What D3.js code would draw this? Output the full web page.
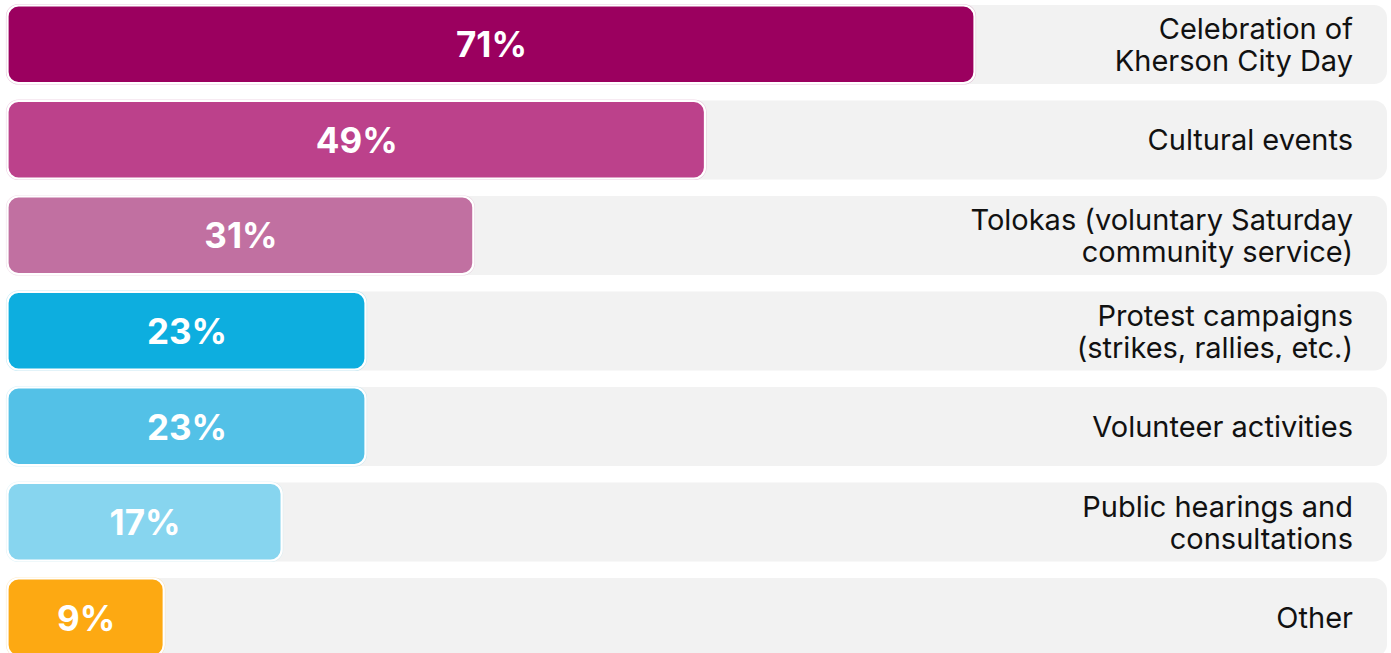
<!DOCTYPE html>
<html>
<head>
<meta charset="utf-8">
<script src="https://cdn.jsdelivr.net/npm/d3@7"></script>
<style>
  html, body { margin: 0; padding: 0; background: #ffffff; }
  svg { display: block; }
</style>
</head>
<body>
<svg id="chart" width="1391" height="653"></svg>
<script>
// ---- data ----
const categories = [
  ["Celebration of", "Kherson City Day"],
  ["Cultural events"],
  ["Tolokas (voluntary Saturday", "community service)"],
  ["Protest campaigns ", "(strikes, rallies, etc.)"],
  ["Volunteer activities"],
  ["Public hearings and", "consultations"],
  ["Other"]
];
const values = [71, 49, 31, 23, 23, 17, 9];
const colors = ["#9b005f", "#bc418b", "#c170a1", "#0daedf", "#53c1e7", "#87d5ef", "#fda912"];

// ---- layout ----
const svg = d3.select("#chart");
const ids = categories.map((c, i) => i);

const y = d3.scaleBand().domain(ids).range([5, 657]).paddingInner(0.173).paddingOuter(0);
const x = d3.scalePow().exponent(0.88).domain([0, 71]).range([0, 968]);

const trackX = 6, trackW = 1381, barX = 7.5;
const font = "Inter, 'Noto Sans', sans-serif";

const rows = svg.selectAll("g.row").data(ids).enter().append("g").attr("class", "row");

rows.append("rect")
  .attr("x", trackX).attr("y", i => y(i))
  .attr("width", trackW).attr("height", y.bandwidth())
  .attr("rx", 13).attr("fill", "#f2f2f2");

// faint tinted halo
rows.append("rect")
  .attr("x", barX - 1).attr("y", i => y(i) - 0.5)
  .attr("width", i => x(values[i]) + 1).attr("height", y.bandwidth() + 0.5)
  .attr("rx", 12)
  .attr("fill", "none")
  .attr("stroke", i => colors[i]).attr("stroke-opacity", 0.22).attr("stroke-width", 1.2);

rows.append("rect")
  .attr("x", barX).attr("y", i => y(i) + 0.5)
  .attr("width", i => x(values[i]) - 1).attr("height", y.bandwidth() - 1.5)
  .attr("rx", 11)
  .attr("fill", i => colors[i])
  .attr("stroke", "#ffffff").attr("stroke-width", 2.2);

rows.append("text")
  .attr("x", i => barX + x(values[i]) / 2)
  .attr("y", i => y(i) + y.bandwidth() / 2 + 13)
  .attr("text-anchor", "middle")
  .attr("font-family", font)
  .attr("font-weight", 700)
  .attr("font-size", 35)
  .attr("fill", "#ffffff")
  .text(i => values[i] + "%");

const lineH = 32;
rows.each(function(i) {
  const lines = categories[i];
  const cy = y(i) + y.bandwidth() / 2;
  const first = cy + 10.5 - (lines.length - 1) * lineH / 2;
  const t = d3.select(this).append("text")
    .attr("text-anchor", "end")
    .attr("font-family", font)
    .attr("font-size", 29)
    .attr("fill", "#111111");
  lines.forEach((l, k) => {
    t.append("tspan").attr("x", 1353).attr("y", first + k * lineH).text(l.trimEnd());
  });
});
</script>
</body>
</html>
